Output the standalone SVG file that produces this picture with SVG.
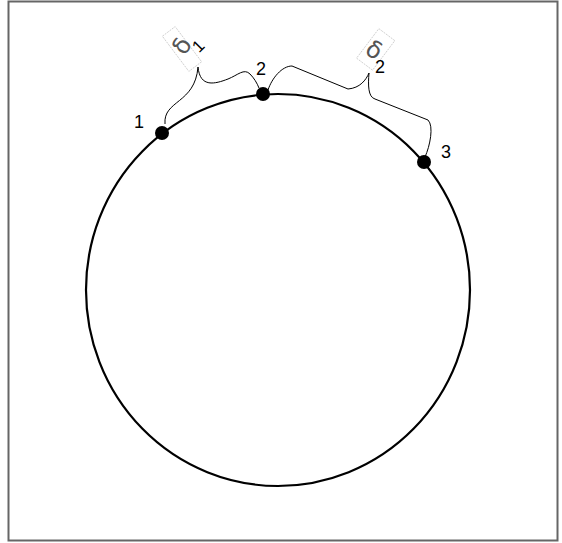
<svg xmlns="http://www.w3.org/2000/svg" width="562" height="543" viewBox="0 0 562 543">
<style>
.num{font-family:"Liberation Sans",Arial,sans-serif;font-size:18px;fill:#000}
.dl{font-family:"DejaVu Sans","Liberation Sans",sans-serif;font-size:24px;fill:#555;text-anchor:middle}
.box{fill:none;stroke:#c8c8c8;stroke-width:0.8;stroke-dasharray:2 1}
.brace{fill:none;stroke:#000;stroke-width:1}
.dot{fill:#000}
</style>
<rect x="8.5" y="1.5" width="549" height="539" fill="#fff" stroke="#666" stroke-width="2"/>
<g id="circle"><ellipse cx="278" cy="290" rx="192" ry="196" fill="none" stroke="#000" stroke-width="2.2"/></g>
<g id="connectors">
<path class="brace" d="M165,124 C163,100 195,104 198,67"/>
<path class="brace" d="M198,67 C200,88 215,84 228,79 C238,75 244,68 250,74 C254,78 257,83 259,88"/>
<path class="brace" d="M268,90 C272,78 282,66 292,66 L348,89 C360,88 366,80 369,73"/>
<path class="brace" d="M369,73 C368,85 368,97 375,99 L428,120 C434,126 430,146 425,157"/>
</g>
<g id="p1"><circle class="dot" cx="162" cy="133" r="7"/><text class="num" x="134" y="128">1</text></g>
<g id="p2"><circle class="dot" cx="263" cy="94" r="7"/><text class="num" x="256" y="75">2</text></g>
<g id="p3"><circle class="dot" cx="424" cy="162" r="7"/><text class="num" x="441" y="158">3</text></g>
<g id="label1">
<rect class="box" x="-8" y="-22" width="16" height="44" transform="translate(182,49) rotate(-37)"/>
<text class="dl" x="0" y="8" transform="translate(182,46) rotate(-60)">δ</text>
<text class="num" style="font-size:17px" text-anchor="middle" x="0" y="6" transform="translate(198,46) rotate(-45)">1</text>
</g>
<g id="label2">
<rect class="box" x="-10" y="-18" width="20" height="37" transform="translate(376,49) rotate(37)"/>
<text class="dl" x="0" y="8" transform="translate(374,50) rotate(30)">δ</text>
<text class="num" x="375" y="73">2</text>
</g>
</svg>
